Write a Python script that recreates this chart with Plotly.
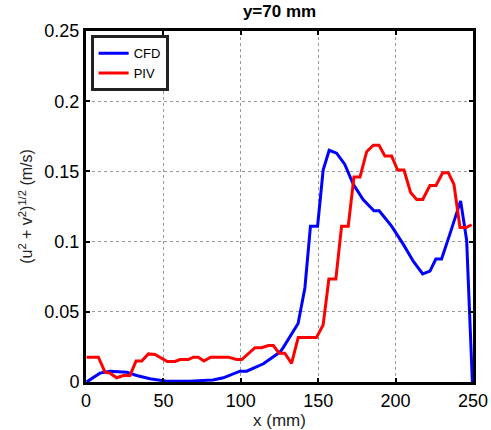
import plotly.graph_objects as go

cfd_x = [0.4, 9, 15.5, 26.3, 32.7, 41.3, 52, 66.6, 82, 88.7, 99.5, 103.8, 114.6, 125.3,
         127.4, 137, 141.4, 145, 149.6, 153.2, 157.1, 161.9, 167.2, 172.6, 179, 186, 189.4,
         197.4, 205, 211.4, 217.5, 222.2, 226, 229.7, 235.1, 242, 245.9, 249.6]
cfd_y = [0.0, 0.0063, 0.0077, 0.007, 0.0046, 0.0023, 0.0006, 0.0006, 0.0015, 0.003, 0.0077,
         0.0077, 0.013, 0.0213, 0.0245, 0.0417, 0.067, 0.111, 0.111, 0.151, 0.165, 0.163,
         0.155, 0.141, 0.130, 0.122, 0.122, 0.111, 0.098, 0.086, 0.077, 0.079, 0.0876,
         0.0876, 0.1055, 0.129, 0.101, 0.0]

piv_x = [0.4, 8, 12.3, 15.5, 19.8, 24.1, 28.4, 32.3, 36, 40.3, 44.6, 52.5, 57.5, 60.7, 66.1,
         69.3, 72.5, 76.2, 80.5, 92, 97.3, 100.6, 109.2, 113.5, 117.8, 121, 124.8, 128.4,
         132.8, 137.1, 148.9, 153.2, 156.9, 161.4, 165.1, 169.4, 173.1, 177, 181.3, 185.6,
         189.3, 193.1, 197.4, 201.3, 205.4, 209.7, 213.6, 217.5, 222.2, 226.1, 230.4, 234.1,
         237.7, 241.6, 245.5, 249.1]
piv_y = [0.0177, 0.0177, 0.007, 0.0063, 0.003, 0.0046, 0.0046, 0.0149, 0.0149, 0.020, 0.0196,
         0.0146, 0.0146, 0.016, 0.016, 0.0177, 0.0177, 0.015, 0.0177, 0.0177, 0.016, 0.016,
         0.0244, 0.0244, 0.026, 0.026, 0.0205, 0.0205, 0.0133, 0.0317, 0.0317, 0.0407, 0.0733,
         0.0733, 0.111, 0.111, 0.146, 0.146, 0.164, 0.1686, 0.1686, 0.161, 0.161, 0.151, 0.151,
         0.135, 0.130, 0.130, 0.140, 0.140, 0.149, 0.149, 0.1407, 0.110, 0.110, 0.112]

x_ticks = [0, 50, 100, 150, 200, 250]
y_ticks = [0, 0.05, 0.1, 0.15, 0.2, 0.25]
y_tick_labels = ["0", "0.05", "0.1", "0.15", "0.2", "0.25"]

fig = go.Figure()
fig.add_trace(go.Scatter(x=cfd_x, y=cfd_y, mode="lines", name="CFD",
                         line=dict(color="#0000ff", width=3)))
fig.add_trace(go.Scatter(x=piv_x, y=piv_y, mode="lines", name="PIV",
                         line=dict(color="#ff0000", width=3)))

font_family = "Liberation Sans, Arial, sans-serif"
axis_common = dict(
    showline=True, linecolor="black", linewidth=3, mirror="ticks",
    ticks="inside", ticklen=4, tickwidth=2, tickcolor="black",
    showgrid=True, gridcolor="#999999", griddash="dot", gridwidth=1,
    zeroline=False, automargin=False,
    tickfont=dict(family=font_family, size=18, color="black"),
)

fig.update_layout(
    width=491, height=430,
    margin=dict(l=86, r=18, t=31, b=48),
    paper_bgcolor="white", plot_bgcolor="white",
    title=dict(text="<b>y=70 mm</b>", x=0.5693, xanchor="center", y=0.988, yanchor="top",
               font=dict(family=font_family, size=17, color="black")),
    xaxis=dict(range=[0, 250], tickvals=x_ticks,
               title=dict(text="x (mm)", font=dict(family=font_family, size=17, color="#222"),
                          standoff=0),
               **axis_common),
    yaxis=dict(range=[0, 0.25], tickvals=y_ticks, ticktext=y_tick_labels,
               title=dict(text="(u<sup>2</sup> + v<sup>2</sup>)<sup>1/2</sup> (m/s)",
                          font=dict(family=font_family, size=16, color="#222"), standoff=8),
               **axis_common),
    legend=dict(x=0.012, y=0.988, xanchor="left", yanchor="top",
                bgcolor="white", bordercolor="#222", borderwidth=3,
                font=dict(family=font_family, size=13, color="black"),
                tracegroupgap=0, itemwidth=30),
    showlegend=True,
)

fig.write_html("out.html")
